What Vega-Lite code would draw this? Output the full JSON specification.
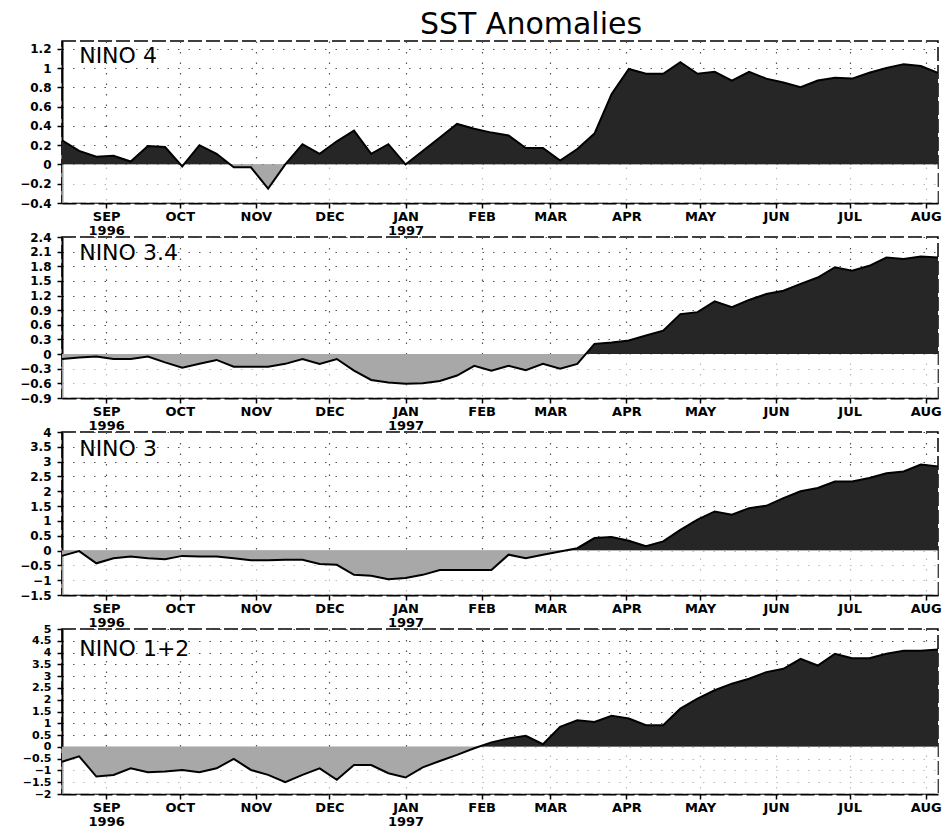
{
  "$schema": "https://vega.github.io/schema/vega-lite/v6.json",
  "background": "white",
  "padding": {"left": 18, "top": 10, "right": 4, "bottom": 2},
  "title": {"text": "SST Anomalies", "font": "DejaVu Sans", "fontSize": 30, "fontWeight": "normal", "color": "black", "anchor": "middle", "frame": "group", "offset": 0, "dx": 31},
  "spacing": 34,
  "bounds": "flush",
  "datasets": {
    "nino4": [
      {"date": "1996-08-14", "sst": 0.25}, {"date": "1996-08-21", "sst": 0.14}, {"date": "1996-08-28", "sst": 0.08}, {"date": "1996-09-04", "sst": 0.09},
      {"date": "1996-09-11", "sst": 0.03}, {"date": "1996-09-18", "sst": 0.19}, {"date": "1996-09-25", "sst": 0.18}, {"date": "1996-10-02", "sst": -0.02},
      {"date": "1996-10-09", "sst": 0.20}, {"date": "1996-10-16", "sst": 0.11}, {"date": "1996-10-23", "sst": -0.03}, {"date": "1996-10-30", "sst": -0.03},
      {"date": "1996-11-06", "sst": -0.25}, {"date": "1996-11-13", "sst": 0.0}, {"date": "1996-11-20", "sst": 0.21}, {"date": "1996-11-27", "sst": 0.11},
      {"date": "1996-12-04", "sst": 0.24}, {"date": "1996-12-11", "sst": 0.35}, {"date": "1996-12-18", "sst": 0.11}, {"date": "1996-12-25", "sst": 0.21},
      {"date": "1997-01-01", "sst": 0.0}, {"date": "1997-01-08", "sst": 0.14}, {"date": "1997-01-15", "sst": 0.28}, {"date": "1997-01-22", "sst": 0.42},
      {"date": "1997-01-29", "sst": 0.37}, {"date": "1997-02-05", "sst": 0.33}, {"date": "1997-02-12", "sst": 0.30}, {"date": "1997-02-19", "sst": 0.17},
      {"date": "1997-02-26", "sst": 0.17}, {"date": "1997-03-05", "sst": 0.04}, {"date": "1997-03-12", "sst": 0.16}, {"date": "1997-03-19", "sst": 0.32},
      {"date": "1997-03-26", "sst": 0.73}, {"date": "1997-04-02", "sst": 0.99}, {"date": "1997-04-09", "sst": 0.94}, {"date": "1997-04-16", "sst": 0.94},
      {"date": "1997-04-23", "sst": 1.06}, {"date": "1997-04-30", "sst": 0.94}, {"date": "1997-05-07", "sst": 0.96}, {"date": "1997-05-14", "sst": 0.87},
      {"date": "1997-05-21", "sst": 0.96}, {"date": "1997-05-28", "sst": 0.89}, {"date": "1997-06-04", "sst": 0.85}, {"date": "1997-06-11", "sst": 0.80},
      {"date": "1997-06-18", "sst": 0.87}, {"date": "1997-06-25", "sst": 0.90}, {"date": "1997-07-02", "sst": 0.89}, {"date": "1997-07-09", "sst": 0.95},
      {"date": "1997-07-16", "sst": 1.00}, {"date": "1997-07-23", "sst": 1.04}, {"date": "1997-07-30", "sst": 1.02}, {"date": "1997-08-06", "sst": 0.95}
    ],
    "nino34": [
      {"date": "1996-08-14", "sst": -0.10}, {"date": "1996-08-21", "sst": -0.07}, {"date": "1996-08-28", "sst": -0.05}, {"date": "1996-09-04", "sst": -0.10},
      {"date": "1996-09-11", "sst": -0.10}, {"date": "1996-09-18", "sst": -0.05}, {"date": "1996-09-25", "sst": -0.17}, {"date": "1996-10-02", "sst": -0.28},
      {"date": "1996-10-09", "sst": -0.20}, {"date": "1996-10-16", "sst": -0.12}, {"date": "1996-10-23", "sst": -0.26}, {"date": "1996-10-30", "sst": -0.26},
      {"date": "1996-11-06", "sst": -0.26}, {"date": "1996-11-13", "sst": -0.20}, {"date": "1996-11-20", "sst": -0.10}, {"date": "1996-11-27", "sst": -0.20},
      {"date": "1996-12-04", "sst": -0.10}, {"date": "1996-12-11", "sst": -0.34}, {"date": "1996-12-18", "sst": -0.53}, {"date": "1996-12-25", "sst": -0.58},
      {"date": "1997-01-01", "sst": -0.61}, {"date": "1997-01-08", "sst": -0.60}, {"date": "1997-01-15", "sst": -0.55}, {"date": "1997-01-22", "sst": -0.44},
      {"date": "1997-01-29", "sst": -0.24}, {"date": "1997-02-05", "sst": -0.34}, {"date": "1997-02-12", "sst": -0.24}, {"date": "1997-02-19", "sst": -0.33},
      {"date": "1997-02-26", "sst": -0.20}, {"date": "1997-03-05", "sst": -0.30}, {"date": "1997-03-12", "sst": -0.20}, {"date": "1997-03-19", "sst": 0.21},
      {"date": "1997-03-26", "sst": 0.24}, {"date": "1997-04-02", "sst": 0.28}, {"date": "1997-04-09", "sst": 0.38}, {"date": "1997-04-16", "sst": 0.48},
      {"date": "1997-04-23", "sst": 0.82}, {"date": "1997-04-30", "sst": 0.86}, {"date": "1997-05-07", "sst": 1.08}, {"date": "1997-05-14", "sst": 0.96},
      {"date": "1997-05-21", "sst": 1.11}, {"date": "1997-05-28", "sst": 1.23}, {"date": "1997-06-04", "sst": 1.30}, {"date": "1997-06-11", "sst": 1.44},
      {"date": "1997-06-18", "sst": 1.57}, {"date": "1997-06-25", "sst": 1.78}, {"date": "1997-07-02", "sst": 1.71}, {"date": "1997-07-09", "sst": 1.81},
      {"date": "1997-07-16", "sst": 1.98}, {"date": "1997-07-23", "sst": 1.95}, {"date": "1997-07-30", "sst": 2.00}, {"date": "1997-08-06", "sst": 1.98}
    ],
    "nino3": [
      {"date": "1996-08-14", "sst": -0.18}, {"date": "1996-08-21", "sst": -0.02}, {"date": "1996-08-28", "sst": -0.43}, {"date": "1996-09-04", "sst": -0.26},
      {"date": "1996-09-11", "sst": -0.20}, {"date": "1996-09-18", "sst": -0.26}, {"date": "1996-09-25", "sst": -0.29}, {"date": "1996-10-02", "sst": -0.18},
      {"date": "1996-10-09", "sst": -0.20}, {"date": "1996-10-16", "sst": -0.20}, {"date": "1996-10-23", "sst": -0.26}, {"date": "1996-10-30", "sst": -0.33},
      {"date": "1996-11-06", "sst": -0.33}, {"date": "1996-11-13", "sst": -0.31}, {"date": "1996-11-20", "sst": -0.31}, {"date": "1996-11-27", "sst": -0.45},
      {"date": "1996-12-04", "sst": -0.48}, {"date": "1996-12-11", "sst": -0.82}, {"date": "1996-12-18", "sst": -0.85}, {"date": "1996-12-25", "sst": -0.97},
      {"date": "1997-01-01", "sst": -0.93}, {"date": "1997-01-08", "sst": -0.82}, {"date": "1997-01-15", "sst": -0.66}, {"date": "1997-01-22", "sst": -0.66},
      {"date": "1997-01-29", "sst": -0.66}, {"date": "1997-02-05", "sst": -0.66}, {"date": "1997-02-12", "sst": -0.14}, {"date": "1997-02-19", "sst": -0.26},
      {"date": "1997-02-26", "sst": -0.14}, {"date": "1997-03-05", "sst": -0.03}, {"date": "1997-03-12", "sst": 0.08}, {"date": "1997-03-19", "sst": 0.42},
      {"date": "1997-03-26", "sst": 0.46}, {"date": "1997-04-02", "sst": 0.33}, {"date": "1997-04-09", "sst": 0.15}, {"date": "1997-04-16", "sst": 0.31},
      {"date": "1997-04-23", "sst": 0.70}, {"date": "1997-04-30", "sst": 1.04}, {"date": "1997-05-07", "sst": 1.32}, {"date": "1997-05-14", "sst": 1.21},
      {"date": "1997-05-21", "sst": 1.43}, {"date": "1997-05-28", "sst": 1.51}, {"date": "1997-06-04", "sst": 1.77}, {"date": "1997-06-11", "sst": 2.00},
      {"date": "1997-06-18", "sst": 2.11}, {"date": "1997-06-25", "sst": 2.33}, {"date": "1997-07-02", "sst": 2.33}, {"date": "1997-07-09", "sst": 2.45},
      {"date": "1997-07-16", "sst": 2.61}, {"date": "1997-07-23", "sst": 2.67}, {"date": "1997-07-30", "sst": 2.90}, {"date": "1997-08-06", "sst": 2.84}
    ],
    "nino12": [
      {"date": "1996-08-14", "sst": -0.63}, {"date": "1996-08-21", "sst": -0.40}, {"date": "1996-08-28", "sst": -1.26}, {"date": "1996-09-04", "sst": -1.19},
      {"date": "1996-09-11", "sst": -0.91}, {"date": "1996-09-18", "sst": -1.08}, {"date": "1996-09-25", "sst": -1.05}, {"date": "1996-10-02", "sst": -0.98},
      {"date": "1996-10-09", "sst": -1.08}, {"date": "1996-10-16", "sst": -0.91}, {"date": "1996-10-23", "sst": -0.51}, {"date": "1996-10-30", "sst": -0.98},
      {"date": "1996-11-06", "sst": -1.19}, {"date": "1996-11-13", "sst": -1.50}, {"date": "1996-11-20", "sst": -1.19}, {"date": "1996-11-27", "sst": -0.91},
      {"date": "1996-12-04", "sst": -1.40}, {"date": "1996-12-11", "sst": -0.77}, {"date": "1996-12-18", "sst": -0.77}, {"date": "1996-12-25", "sst": -1.12},
      {"date": "1997-01-01", "sst": -1.30}, {"date": "1997-01-08", "sst": -0.87}, {"date": "1997-01-15", "sst": -0.60}, {"date": "1997-01-22", "sst": -0.34},
      {"date": "1997-01-29", "sst": -0.06}, {"date": "1997-02-05", "sst": 0.19}, {"date": "1997-02-12", "sst": 0.36}, {"date": "1997-02-19", "sst": 0.47},
      {"date": "1997-02-26", "sst": 0.11}, {"date": "1997-03-05", "sst": 0.85}, {"date": "1997-03-12", "sst": 1.13}, {"date": "1997-03-19", "sst": 1.06},
      {"date": "1997-03-26", "sst": 1.32}, {"date": "1997-04-02", "sst": 1.20}, {"date": "1997-04-09", "sst": 0.92}, {"date": "1997-04-16", "sst": 0.92},
      {"date": "1997-04-23", "sst": 1.62}, {"date": "1997-04-30", "sst": 2.05}, {"date": "1997-05-07", "sst": 2.40}, {"date": "1997-05-14", "sst": 2.68},
      {"date": "1997-05-21", "sst": 2.89}, {"date": "1997-05-28", "sst": 3.17}, {"date": "1997-06-04", "sst": 3.31}, {"date": "1997-06-11", "sst": 3.73},
      {"date": "1997-06-18", "sst": 3.45}, {"date": "1997-06-25", "sst": 3.95}, {"date": "1997-07-02", "sst": 3.76}, {"date": "1997-07-09", "sst": 3.76},
      {"date": "1997-07-16", "sst": 3.95}, {"date": "1997-07-23", "sst": 4.08}, {"date": "1997-07-30", "sst": 4.08}, {"date": "1997-08-06", "sst": 4.13}
    ]
  },
  "vconcat": [
    {
      "width": 876, "height": 162,
      "data": {"name": "nino4"},
      "layer": [
        {"mark": {"type": "area", "color": "#262626"},
         "encoding": {
           "x": {"field": "date", "type": "temporal", "title": null, "scale": {"type": "utc", "nice": false},
                 "axis": {"tickCount": {"interval": "month", "step": 1}, "labelExpr": "utcmonth(datum.value) == 8 || utcmonth(datum.value) == 0 ? [upper(utcFormat(datum.value, '%b')), utcFormat(datum.value, '%Y')] : upper(utcFormat(datum.value, '%b'))"}},
           "y": {"field": "sst", "type": "quantitative", "title": null, "scale": {"domain": [-0.4, 1.28], "nice": false, "zero": false},
                 "axis": {"values": [-0.4, -0.2, 0, 0.2, 0.4, 0.6, 0.8, 1, 1.2], "format": ".2~f", "labelOverlap": false, "labelSeparation": -40}},
           "y2": {"datum": 0}}},
        {"data": {"values": [{}]}, "mark": {"type": "rect", "color": "white", "opacity": 0.6},
         "encoding": {"y": {"datum": 0, "title": null, "axis": {"values": [-0.4, -0.2, 0, 0.2, 0.4, 0.6, 0.8, 1, 1.2], "format": ".2~f", "labelOverlap": false, "labelSeparation": -40}}, "y2": {"datum": -0.4}}},
        {"mark": {"type": "line", "color": "black", "strokeWidth": 2},
         "encoding": {"x": {"field": "date", "type": "temporal", "title": null}, "y": {"field": "sst", "type": "quantitative", "title": null, "axis": {"values": [-0.4, -0.2, 0, 0.2, 0.4, 0.6, 0.8, 1, 1.2], "format": ".2~f", "labelOverlap": false, "labelSeparation": -40}}}},
        {"data": {"values": [{"label": "NINO 4"}]}, "mark": {"type": "text", "align": "left", "baseline": "alphabetic", "font": "DejaVu Sans", "fontSize": 22, "color": "black"},
         "encoding": {"text": {"field": "label"}, "x": {"datum": {"year": 1996, "month": 8, "date": 21, "utc": true}, "type": "temporal", "title": null}, "y": {"datum": 1.05, "title": null, "axis": {"values": [-0.4, -0.2, 0, 0.2, 0.4, 0.6, 0.8, 1, 1.2], "format": ".2~f", "labelOverlap": false, "labelSeparation": -40}}}}
      ]
    },
    {
      "width": 876, "height": 161,
      "data": {"name": "nino34"},
      "layer": [
        {"mark": {"type": "area", "color": "#262626"},
         "encoding": {
           "x": {"field": "date", "type": "temporal", "title": null, "scale": {"type": "utc", "nice": false},
                 "axis": {"tickCount": {"interval": "month", "step": 1}, "labelExpr": "utcmonth(datum.value) == 8 || utcmonth(datum.value) == 0 ? [upper(utcFormat(datum.value, '%b')), utcFormat(datum.value, '%Y')] : upper(utcFormat(datum.value, '%b'))"}},
           "y": {"field": "sst", "type": "quantitative", "title": null, "scale": {"domain": [-0.9, 2.4], "nice": false, "zero": false},
                 "axis": {"values": [-0.9, -0.6, -0.3, 0, 0.3, 0.6, 0.9, 1.2, 1.5, 1.8, 2.1, 2.4], "format": ".2~f", "labelOverlap": false, "labelSeparation": -40}},
           "y2": {"datum": 0}}},
        {"data": {"values": [{}]}, "mark": {"type": "rect", "color": "white", "opacity": 0.6},
         "encoding": {"y": {"datum": 0, "title": null, "axis": {"values": [-0.9, -0.6, -0.3, 0, 0.3, 0.6, 0.9, 1.2, 1.5, 1.8, 2.1, 2.4], "format": ".2~f", "labelOverlap": false, "labelSeparation": -40}}, "y2": {"datum": -0.9}}},
        {"mark": {"type": "line", "color": "black", "strokeWidth": 2},
         "encoding": {"x": {"field": "date", "type": "temporal", "title": null}, "y": {"field": "sst", "type": "quantitative", "title": null, "axis": {"values": [-0.9, -0.6, -0.3, 0, 0.3, 0.6, 0.9, 1.2, 1.5, 1.8, 2.1, 2.4], "format": ".2~f", "labelOverlap": false, "labelSeparation": -40}}}},
        {"data": {"values": [{"label": "NINO 3.4"}]}, "mark": {"type": "text", "align": "left", "baseline": "alphabetic", "font": "DejaVu Sans", "fontSize": 22, "color": "black"},
         "encoding": {"text": {"field": "label"}, "x": {"datum": {"year": 1996, "month": 8, "date": 21, "utc": true}, "type": "temporal", "title": null}, "y": {"datum": 1.93, "title": null, "axis": {"values": [-0.9, -0.6, -0.3, 0, 0.3, 0.6, 0.9, 1.2, 1.5, 1.8, 2.1, 2.4], "format": ".2~f", "labelOverlap": false, "labelSeparation": -40}}}}
      ]
    },
    {
      "width": 876, "height": 163,
      "data": {"name": "nino3"},
      "layer": [
        {"mark": {"type": "area", "color": "#262626"},
         "encoding": {
           "x": {"field": "date", "type": "temporal", "title": null, "scale": {"type": "utc", "nice": false},
                 "axis": {"tickCount": {"interval": "month", "step": 1}, "labelExpr": "utcmonth(datum.value) == 8 || utcmonth(datum.value) == 0 ? [upper(utcFormat(datum.value, '%b')), utcFormat(datum.value, '%Y')] : upper(utcFormat(datum.value, '%b'))"}},
           "y": {"field": "sst", "type": "quantitative", "title": null, "scale": {"domain": [-1.5, 4], "nice": false, "zero": false},
                 "axis": {"values": [-1.5, -1, -0.5, 0, 0.5, 1, 1.5, 2, 2.5, 3, 3.5, 4], "format": ".1~f", "labelOverlap": false, "labelSeparation": -40}},
           "y2": {"datum": 0}}},
        {"data": {"values": [{}]}, "mark": {"type": "rect", "color": "white", "opacity": 0.6},
         "encoding": {"y": {"datum": 0, "title": null, "axis": {"values": [-1.5, -1, -0.5, 0, 0.5, 1, 1.5, 2, 2.5, 3, 3.5, 4], "format": ".1~f", "labelOverlap": false, "labelSeparation": -40}}, "y2": {"datum": -1.5}}},
        {"mark": {"type": "line", "color": "black", "strokeWidth": 2},
         "encoding": {"x": {"field": "date", "type": "temporal", "title": null}, "y": {"field": "sst", "type": "quantitative", "title": null, "axis": {"values": [-1.5, -1, -0.5, 0, 0.5, 1, 1.5, 2, 2.5, 3, 3.5, 4], "format": ".1~f", "labelOverlap": false, "labelSeparation": -40}}}},
        {"data": {"values": [{"label": "NINO 3"}]}, "mark": {"type": "text", "align": "left", "baseline": "alphabetic", "font": "DejaVu Sans", "fontSize": 22, "color": "black"},
         "encoding": {"text": {"field": "label"}, "x": {"datum": {"year": 1996, "month": 8, "date": 21, "utc": true}, "type": "temporal", "title": null}, "y": {"datum": 3.19, "title": null, "axis": {"values": [-1.5, -1, -0.5, 0, 0.5, 1, 1.5, 2, 2.5, 3, 3.5, 4], "format": ".1~f", "labelOverlap": false, "labelSeparation": -40}}}}
      ]
    },
    {
      "width": 876, "height": 165,
      "data": {"name": "nino12"},
      "layer": [
        {"mark": {"type": "area", "color": "#262626"},
         "encoding": {
           "x": {"field": "date", "type": "temporal", "title": null, "scale": {"type": "utc", "nice": false},
                 "axis": {"tickCount": {"interval": "month", "step": 1}, "labelExpr": "utcmonth(datum.value) == 8 || utcmonth(datum.value) == 0 ? [upper(utcFormat(datum.value, '%b')), utcFormat(datum.value, '%Y')] : upper(utcFormat(datum.value, '%b'))"}},
           "y": {"field": "sst", "type": "quantitative", "title": null, "scale": {"domain": [-2, 5], "nice": false, "zero": false},
                 "axis": {"values": [-2, -1.5, -1, -0.5, 0, 0.5, 1, 1.5, 2, 2.5, 3, 3.5, 4, 4.5, 5], "format": ".1~f", "labelOverlap": false, "labelSeparation": -40, "labelFontSize": 11}},
           "y2": {"datum": 0}}},
        {"data": {"values": [{}]}, "mark": {"type": "rect", "color": "white", "opacity": 0.6},
         "encoding": {"y": {"datum": 0, "title": null, "axis": {"values": [-2, -1.5, -1, -0.5, 0, 0.5, 1, 1.5, 2, 2.5, 3, 3.5, 4, 4.5, 5], "format": ".1~f", "labelOverlap": false, "labelSeparation": -40, "labelFontSize": 11}}, "y2": {"datum": -2}}},
        {"mark": {"type": "line", "color": "black", "strokeWidth": 2},
         "encoding": {"x": {"field": "date", "type": "temporal", "title": null}, "y": {"field": "sst", "type": "quantitative", "title": null, "axis": {"values": [-2, -1.5, -1, -0.5, 0, 0.5, 1, 1.5, 2, 2.5, 3, 3.5, 4, 4.5, 5], "format": ".1~f", "labelOverlap": false, "labelSeparation": -40, "labelFontSize": 11}}}},
        {"data": {"values": [{"label": "NINO 1+2"}]}, "mark": {"type": "text", "align": "left", "baseline": "alphabetic", "font": "DejaVu Sans", "fontSize": 22, "color": "black"},
         "encoding": {"text": {"field": "label"}, "x": {"datum": {"year": 1996, "month": 8, "date": 21, "utc": true}, "type": "temporal", "title": null}, "y": {"datum": 3.86, "title": null, "axis": {"values": [-2, -1.5, -1, -0.5, 0, 0.5, 1, 1.5, 2, 2.5, 3, 3.5, 4, 4.5, 5], "format": ".1~f", "labelOverlap": false, "labelSeparation": -40, "labelFontSize": 11}}}}
      ]
    }
  ],
  "config": {
    "view": {"stroke": "black", "strokeWidth": 1.5, "strokeDash": [14, 4]},
    "axis": {"labelFont": "DejaVu Sans", "labelFontWeight": "bold", "labelColor": "black", "domainColor": "black", "domainWidth": 2, "tickColor": "black", "tickWidth": 1.5, "tickSize": 5, "gridColor": "#555555", "gridDash": [1.5, 9], "gridWidth": 1.2},
    "axisX": {"labelFontSize": 13, "labelPadding": 2, "domainDash": [14, 4], "labelLineHeight": 14, "labelBaseline": "top"},
    "axisY": {"labelFontSize": 12, "labelPadding": 6, "labelOverlap": false}
  }
}
